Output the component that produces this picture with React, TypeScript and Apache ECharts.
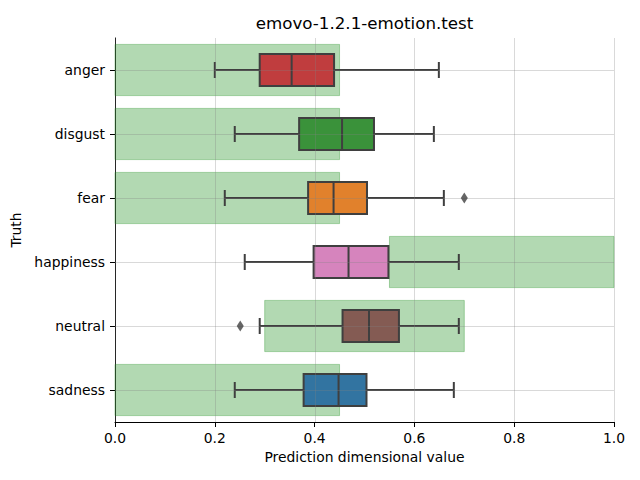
import React, { useEffect, useRef } from "react";
import * as echarts from "echarts";

const categories = ["anger", "disgust", "fear", "happiness", "neutral", "sadness"];
const whiskerLow = [0.2, 0.24, 0.22, 0.26, 0.29, 0.24];
const q1 = [0.29, 0.369, 0.387, 0.398, 0.456, 0.378];
const median = [0.354, 0.455, 0.438, 0.468, 0.509, 0.448];
const q3 = [0.439, 0.519, 0.505, 0.548, 0.569, 0.504];
const whiskerHigh = [0.649, 0.639, 0.659, 0.689, 0.689, 0.679];
const outlierCats = ["fear", "neutral"];
const outlierValues = [0.7, 0.251];
const rangeLow = [0, 0, 0, 0.55, 0.3, 0];
const rangeHigh = [0.45, 0.45, 0.45, 1.0, 0.7, 0.45];
const boxColors = ["#c03d3e", "#3a923a", "#e1812c", "#d684bd", "#845b53", "#3274a1"];
const xTicks = [0, 0.2, 0.4, 0.6, 0.8, 1.0];

const FONT = "DejaVu Sans";
const LINE = "#3f3f3f";
const GRID = "rgba(128,128,128,0.3)";

export default function App() {
  const ref = useRef<HTMLDivElement>(null);
  useEffect(() => {
    if (!ref.current) return;
    const chart = echarts.init(ref.current, undefined, { renderer: "svg" });
    const option: any = {
      animation: false,
      grid: { left: 115, right: 26, top: 38, bottom: 58 },
      graphic: [
        {
          type: "text",
          x: 364.5,
          y: 23,
          style: {
            text: "emovo-1.2.1-emotion.test",
            font: `16.7px "${FONT}"`,
            fill: "#000",
            textAlign: "center",
            textVerticalAlign: "middle",
          },
        },
      ],
      xAxis: {
        type: "value",
        min: 0,
        max: 1,
        interval: 0.2,
        name: "Prediction dimensional value",
        nameLocation: "middle",
        nameGap: 28,
        nameTextStyle: { fontFamily: FONT, fontSize: 13.9, color: "#000" },
        axisLine: { show: true, lineStyle: { color: "#000", width: 1 } },
        axisTick: { show: true, length: 5, lineStyle: { color: "#000" } },
        axisLabel: {
          fontFamily: FONT,
          fontSize: 13.9,
          color: "#000",
          margin: 9,
          formatter: (v: number) => v.toFixed(1),
        },
        splitLine: { show: false },
      },
      yAxis: {
        type: "category",
        data: categories,
        inverse: true,
        name: "Truth",
        nameLocation: "middle",
        nameGap: 85,
        nameTextStyle: { fontFamily: FONT, fontSize: 13.9, color: "#000" },
        axisLine: { show: true, lineStyle: { color: "#000", width: 1 } },
        axisTick: { show: true, alignWithLabel: true, length: 5, lineStyle: { color: "#000" } },
        axisLabel: { fontFamily: FONT, fontSize: 13.9, color: "#000", margin: 10 },
        splitLine: { show: false },
      },
      series: [
        {
          type: "custom",
          z: 1,
          encode: { x: [1, 2], y: 0 },
          data: categories.map((_, i) => [i, rangeLow[i], rangeHigh[i]]),
          renderItem: (params: any, api: any) => {
            const i = api.value(0);
            const p0 = api.coord([api.value(1), i]);
            const p1 = api.coord([api.value(2), i]);
            const band = api.size([0, 1])[1];
            const h = band * 0.8;
            return {
              type: "rect",
              shape: { x: p0[0], y: p0[1] - h / 2, width: p1[0] - p0[0], height: h },
              style: { fill: "rgba(0,128,0,0.3)", stroke: "rgba(0,128,0,0.3)", lineWidth: 1 },
            };
          },
        },
        {
          type: "custom",
          z: 2,
          encode: { x: [1, 2, 3, 4, 5], y: 0 },
          data: categories.map((_, i) => [i, whiskerLow[i], q1[i], median[i], q3[i], whiskerHigh[i]]),
          renderItem: (params: any, api: any) => {
            const i = api.value(0);
            const xs = [1, 2, 3, 4, 5].map((d) => api.coord([api.value(d), i])[0]);
            const yc = api.coord([0, i])[1];
            const band = api.size([0, 1])[1];
            const bh = band * 0.5;
            const ch = bh * 0.5;
            const ls = { stroke: LINE, lineWidth: 2 };
            return {
              type: "group",
              children: [
                { type: "line", shape: { x1: xs[0], y1: yc, x2: xs[1], y2: yc }, style: ls },
                { type: "line", shape: { x1: xs[3], y1: yc, x2: xs[4], y2: yc }, style: ls },
                { type: "line", shape: { x1: xs[0], y1: yc - ch / 2, x2: xs[0], y2: yc + ch / 2 }, style: ls },
                { type: "line", shape: { x1: xs[4], y1: yc - ch / 2, x2: xs[4], y2: yc + ch / 2 }, style: ls },
                {
                  type: "rect",
                  shape: { x: xs[1], y: yc - bh / 2, width: xs[3] - xs[1], height: bh },
                  style: { fill: boxColors[i], stroke: LINE, lineWidth: 2 },
                },
                { type: "line", shape: { x1: xs[2], y1: yc - bh / 2, x2: xs[2], y2: yc + bh / 2 }, style: ls },
              ],
            };
          },
        },
        {
          type: "custom",
          z: 3,
          silent: true,
          encode: { x: 0 },
          data: xTicks.map((v) => [v]),
          renderItem: (params: any, api: any) => {
            const cs = params.coordSys;
            const x = Math.round(api.coord([api.value(0), 0])[0]) + 0.5;
            return {
              type: "line",
              shape: { x1: x, y1: cs.y, x2: x, y2: cs.y + cs.height },
              style: { stroke: GRID, lineWidth: 1 },
            };
          },
        },
        {
          type: "custom",
          z: 3,
          silent: true,
          encode: { y: 0 },
          data: categories.map((_, i) => [i]),
          renderItem: (params: any, api: any) => {
            const cs = params.coordSys;
            const y = Math.round(api.coord([0, api.value(0)])[1]) + 0.5;
            return {
              type: "line",
              shape: { x1: cs.x, y1: y, x2: cs.x + cs.width, y2: y },
              style: { stroke: GRID, lineWidth: 1 },
            };
          },
        },
        {
          type: "scatter",
          z: 4,
          symbol: "diamond",
          symbolSize: [7, 11],
          itemStyle: { color: LINE },
          data: outlierCats.map((c, k) => [outlierValues[k], c]),
        },
      ],
    };
    chart.setOption(option);
    return () => chart.dispose();
  }, []);
  return <div ref={ref} style={{ width: 640, height: 480, position: "absolute", left: 0, top: 0 }} />;
}
